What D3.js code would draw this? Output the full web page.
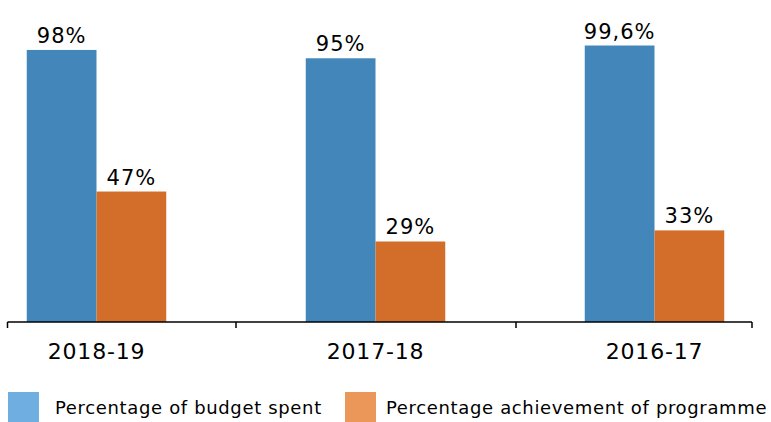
<!DOCTYPE html>
<html>
<head>
<meta charset="utf-8">
<script src="https://cdn.jsdelivr.net/npm/d3@7"></script>
<style>
  body { margin: 0; background: #fff; }
  text { font-family: "DejaVu Sans", sans-serif; fill: #000; }
</style>
</head>
<body>
<div id="chart"></div>
<script>
// data
const years = ["2018-19", "2017-18", "2016-17"];
const budgetSpent = [98, 95, 99.6];
const achievement = [47, 29, 33];
const budgetLabels = ["98%", "95%", "99,6%"];
const achievementLabels = ["47%", "29%", "33%"];
const seriesNames = ["Percentage of budget spent", "Percentage achievement of programme"];

const barColors = ["#4286ba", "#d26e2a"];
const legendColors = ["#6eaee0", "#eb975a"];

const width = 771, height = 422;
const baseY = 322;

const svg = d3.select("#chart").append("svg")
    .attr("width", width)
    .attr("height", height);

const x = d3.scaleBand()
    .domain(years)
    .range([-43, 794])
    .paddingInner(0.5)
    .paddingOuter(0.25);

const xs = d3.scaleBand()
    .domain([0, 1])
    .range([0, x.bandwidth()]);

const y = d3.scaleLinear()
    .domain([0, 100])
    .range([baseY, 44.4]);

const rows = years.map((yr, i) => ({
    year: yr,
    vals: [
        {s: 0, v: budgetSpent[i], label: budgetLabels[i]},
        {s: 1, v: achievement[i], label: achievementLabels[i]}
    ]
}));

const groups = svg.selectAll("g.grp")
    .data(rows)
    .enter().append("g")
    .attr("class", "grp")
    .attr("transform", d => "translate(" + x(d.year) + ",0)");

groups.selectAll("rect")
    .data(d => d.vals)
    .enter().append("rect")
    .attr("x", d => xs(d.s))
    .attr("y", d => y(d.v))
    .attr("width", xs.bandwidth())
    .attr("height", d => baseY - y(d.v))
    .attr("fill", d => barColors[d.s]);

groups.selectAll("text.val")
    .data(d => d.vals)
    .enter().append("text")
    .attr("class", "val")
    .attr("x", d => xs(d.s) + xs.bandwidth() / 2)
    .attr("y", d => y(d.v) - 7)
    .attr("text-anchor", "middle")
    .style("font-size", "21px")
    .style("letter-spacing", "1px")
    .text(d => d.label);

// axis line with ticks at category boundaries
const tickX = [7.5, 236, 516, 752];
svg.append("line")
    .attr("x1", tickX[0]).attr("x2", tickX[3])
    .attr("y1", baseY).attr("y2", baseY)
    .attr("stroke", "#000").attr("stroke-width", 1.5);
svg.selectAll("line.tick")
    .data(tickX)
    .enter().append("line")
    .attr("class", "tick")
    .attr("x1", d => d).attr("x2", d => d)
    .attr("y1", baseY).attr("y2", baseY + 6)
    .attr("stroke", "#000").attr("stroke-width", 1.5);

svg.selectAll("text.cat")
    .data(years)
    .enter().append("text")
    .attr("class", "cat")
    .attr("x", d => x(d) + x.bandwidth() / 2)
    .attr("y", 359)
    .attr("text-anchor", "middle")
    .style("font-size", "22px")
    .style("letter-spacing", "0.8px")
    .text(d => d);

// legend
const legendX = [8, 345];
const leg = svg.selectAll("g.leg")
    .data(seriesNames)
    .enter().append("g")
    .attr("class", "leg")
    .attr("transform", (d, i) => "translate(" + legendX[i] + ",392)");
leg.append("rect")
    .attr("width", 31).attr("height", 30)
    .attr("fill", (d, i) => legendColors[i]);
leg.append("text")
    .attr("x", (d, i) => i === 0 ? 47 : 41)
    .attr("y", 22)
    .style("font-size", "18px")
    .style("letter-spacing", "0.65px")
    .text(d => d);
</script>
</body>
</html>
